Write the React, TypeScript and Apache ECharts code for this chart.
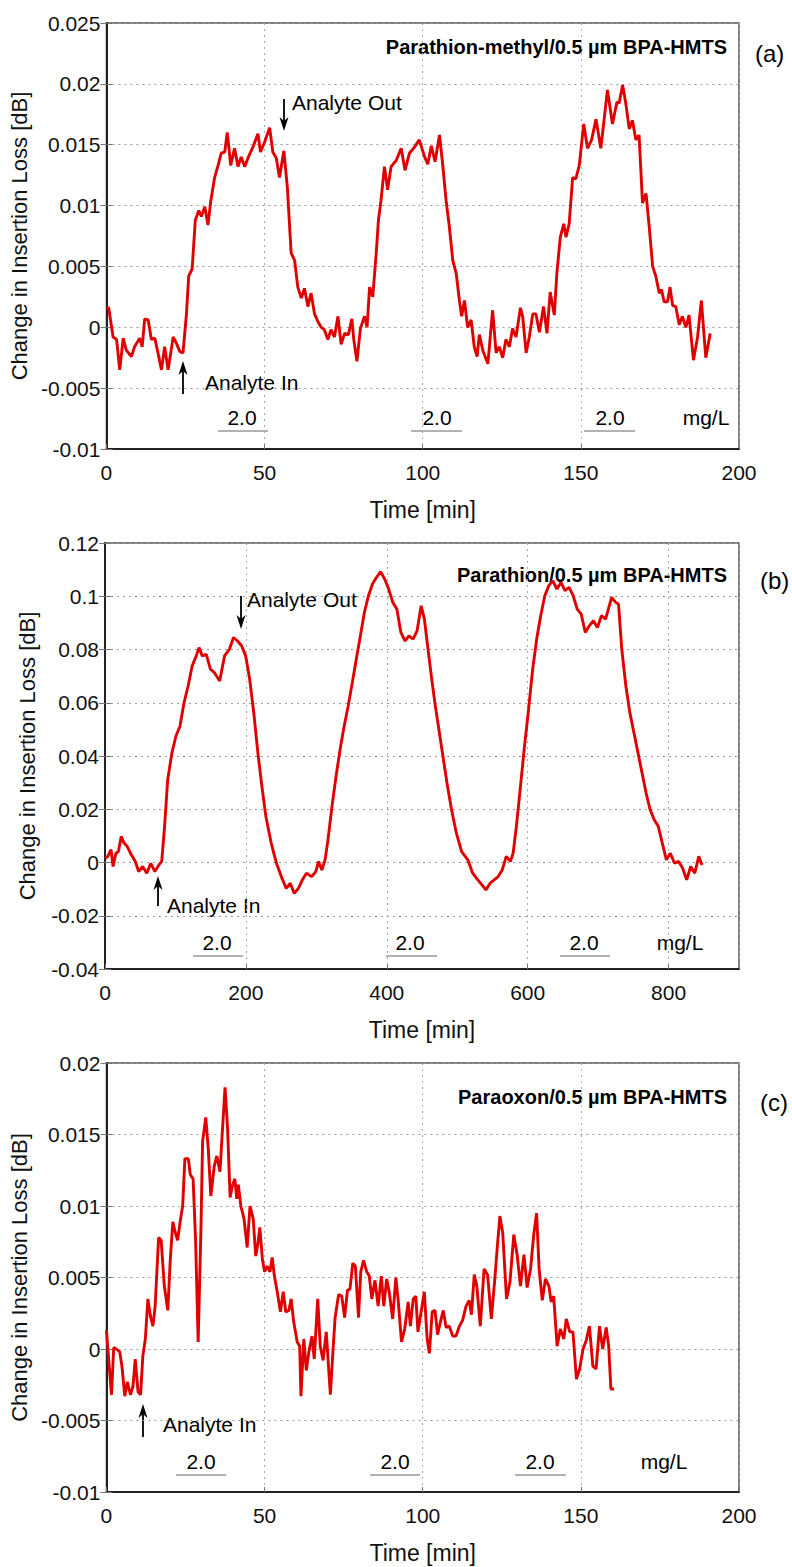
import React, { useEffect, useRef } from "react";
import * as echarts from "echarts";

// ---------- DATA ----------
// Panel (a): Parathion-methyl, [time min, change in insertion loss dB]
const seriesA: number[][] = [[0,0.0016],[0.7,0.0016],[2.1,-0.0008],[3.2,-0.001],[4.2,-0.0035],[5.3,-0.0009],[6.3,-0.0019],[7.9,-0.0024],[8.9,-0.0016],[10.5,-0.0009],[11.3,-0.0016],[12.1,0.0007],[13.2,0.0006],[14.2,-0.001],[15.3,-0.0009],[16.3,-0.0021],[17.4,-0.0035],[18.4,-0.0016],[19.5,-0.0035],[21.1,-0.0008],[22.1,-0.0013],[23.2,-0.002],[24.2,-0.0021],[25.3,0.0011],[26,0.0042],[27.1,0.0048],[28.1,0.0088],[29.2,0.0096],[30,0.0091],[31.1,0.0099],[32.1,0.0084],[33,0.0104],[34.2,0.0123],[35.3,0.0133],[36.3,0.0143],[37.4,0.0144],[38.2,0.016],[39.3,0.0133],[40.5,0.0147],[41.6,0.0132],[42.6,0.014],[43.7,0.0132],[44.9,0.014],[46.3,0.0148],[47.9,0.0159],[48.7,0.0144],[50,0.0152],[51.6,0.0164],[52.6,0.0144],[53.7,0.0139],[54.7,0.0123],[56.1,0.0145],[57.2,0.0115],[58.4,0.0061],[59.5,0.0055],[60.5,0.0033],[61.6,0.0024],[62.6,0.0032],[63.7,0.0017],[64.7,0.0028],[65.8,0.0011],[66.8,0.0005],[67.9,0],[68.9,-0.0002],[70,-0.001],[71,-0.0002],[72.1,-0.0008],[73.2,0.0009],[74.2,-0.0014],[75.3,-0.0005],[76.5,-0.0006],[77.6,0.0007],[78.2,-0.001],[79.2,-0.0028],[80.3,-0.0001],[81.6,0.0009],[82.4,0],[83.2,0.0033],[84.2,0.0025],[85.3,0.0061],[86,0.0088],[86.8,0.0104],[87.9,0.0132],[88.9,0.0113],[90,0.0132],[91.6,0.0137],[93.2,0.0147],[94.4,0.0129],[95.8,0.0143],[97.4,0.0148],[98.9,0.0154],[100.6,0.014],[101.6,0.0134],[102.7,0.0149],[103.9,0.0136],[105.3,0.0158],[106.3,0.0134],[107.4,0.0104],[108.4,0.0083],[109.5,0.0055],[110.6,0.0044],[111.6,0.0022],[112.3,0.0009],[113.2,0.0022],[114.2,0],[115.3,0.0006],[116.3,-0.0016],[117.2,-0.0024],[117.9,-0.0006],[119,-0.0019],[120.6,-0.003],[122.1,0.0014],[123.2,-0.0021],[124.2,-0.0016],[125.3,-0.0025],[126.3,-0.001],[127.4,-0.0016],[128.4,-0.0001],[129.5,-0.0008],[130.9,0.0016],[131.6,0.0009],[132.7,-0.0021],[133.7,-0.0008],[134.8,0.0011],[135.8,0.0011],[136.9,-0.0004],[138.2,0.0017],[139.3,-0.0005],[140.3,0.0029],[141.6,0.001],[142.4,0.0044],[143.5,0.0074],[144.6,0.0085],[145.3,0.0074],[146.3,0.0085],[147.4,0.0123],[148.4,0.0122],[149.5,0.0133],[150.9,0.0167],[152.1,0.0147],[153.4,0.0154],[154.8,0.0171],[156.3,0.0147],[157.2,0.0167],[158.4,0.0195],[160,0.0167],[161.4,0.0185],[162.1,0.0184],[163.2,0.0199],[164.2,0.0184],[165.3,0.0163],[166.3,0.017],[167.4,0.0154],[168.4,0.0158],[169.5,0.0102],[170.6,0.011],[171.6,0.0083],[172.7,0.005],[173.7,0.0042],[174.8,0.0028],[175.5,0.0031],[176.3,0.0021],[177.4,0.0021],[178.2,0.0033],[179,0.0018],[180,0.0017],[181.1,0.0002],[182.1,0.0009],[183.2,0],[184.2,0.001],[185.6,-0.0027],[186.9,-0.0008],[188.1,0.0022],[189.5,-0.0025],[190.9,-0.0005]];

// Panel (b): Parathion
const seriesB: number[][] = [[0,0.0015],[4,0.0023],[8.6,0.0048],[11.5,-0.0015],[15.5,0.0035],[19,0.0041],[23,0.0098],[27,0.0073],[31.6,0.006],[37.4,0.0029],[43,0.0004],[47.8,-0.0034],[53.5,-0.0015],[59.3,-0.004],[65,-0.0003],[70.8,-0.0034],[76.5,-0.0009],[80.5,0.0004],[84.6,0.0136],[89,0.0311],[95,0.0412],[100.7,0.0475],[106.4,0.0512],[112.2,0.06],[118,0.0663],[123.7,0.0738],[129.5,0.0776],[133.5,0.0807],[138,0.0776],[143.8,0.0782],[149.6,0.0726],[155.4,0.0713],[162.8,0.0682],[169.7,0.0776],[176.6,0.0801],[182.4,0.0845],[188.1,0.0832],[193.9,0.0814],[199.7,0.0776],[205.4,0.0688],[211.2,0.0562],[217,0.0412],[222.7,0.0286],[228.4,0.0173],[235.9,0.0073],[243.4,-0.0003],[250.3,-0.0053],[257.2,-0.0097],[263,-0.0078],[268.7,-0.0116],[274.5,-0.0097],[280.2,-0.0065],[286,-0.004],[293.4,-0.0053],[299.2,-0.0034],[303.2,0.0004],[307.8,-0.0028],[312.4,0.001],[316.5,0.0085],[322.2,0.0211],[328,0.0324],[333.7,0.0424],[339.5,0.0512],[345.2,0.0588],[351,0.0675],[356.7,0.0763],[362.5,0.0851],[368.2,0.0939],[374,0.1002],[379.7,0.1046],[385.5,0.1071],[391.2,0.1092],[397,0.1065],[402.7,0.1027],[408.5,0.0977],[414.3,0.0952],[420,0.0864],[425.8,0.0832],[431.5,0.0851],[437.3,0.0839],[443,0.087],[448.8,0.0964],[453.4,0.0914],[457.4,0.0826],[463.2,0.0701],[468.9,0.0588],[474.7,0.0487],[480.4,0.0387],[486.2,0.0286],[492,0.0198],[498.8,0.011],[506.3,0.0041],[515,0.001],[521.9,-0.004],[529.3,-0.0065],[535.1,-0.0084],[540.8,-0.0103],[546.6,-0.0078],[552.4,-0.0065],[558.1,-0.0053],[563.9,-0.0028],[569.6,0.0023],[575.4,0.0004],[579.4,0.0035],[584,0.0136],[589.8,0.0286],[595.5,0.0437],[601.3,0.0575],[607.1,0.0726],[612.8,0.0839],[618.5,0.0927],[624.3,0.1002],[630,0.104],[635.8,0.1058],[641.5,0.1027],[647.3,0.1052],[653,0.1021],[658.8,0.1033],[664.6,0.1002],[670.3,0.0952],[676,0.0933],[681.8,0.0864],[687.5,0.0889],[693.3,0.0908],[699,0.0883],[704.8,0.0927],[710.6,0.0914],[719.2,0.0996],[725,0.0977],[729,0.097],[733.6,0.0801],[739.4,0.0663],[745.1,0.0562],[750.9,0.0487],[756.6,0.0412],[762.4,0.0336],[768.1,0.0261],[773.9,0.0198],[779.6,0.0161],[785.4,0.0136],[791.1,0.0073],[796.9,0.001],[802.6,0.0035],[808.4,-0.0003],[814.2,0.0004],[819.9,-0.0021],[825.7,-0.0065],[831.4,-0.0015],[837.2,-0.004],[842.9,0.0023],[847.5,-0.0009]];

// Panel (c): Paraoxon
const seriesC: number[][] = [[0,0.0013],[0.7,-0.0007],[1.6,-0.0032],[2.3,0.0001],[3.1,0],[4.2,-0.0002],[4.9,-0.0012],[5.8,-0.0033],[6.6,-0.0023],[7.6,-0.0032],[8.4,-0.0026],[9.1,-0.0007],[10,-0.003],[10.8,-0.0032],[11.5,-0.0005],[12.3,0.0007],[13.1,0.0035],[13.9,0.0023],[14.7,0.0016],[15.4,0.003],[16.5,0.0078],[17.3,0.0076],[18.3,0.0044],[19.4,0.0027],[20.2,0.0063],[21,0.0089],[21.7,0.0082],[22.5,0.0076],[23.3,0.0089],[24.1,0.01],[24.8,0.0133],[25.9,0.0133],[26.5,0.0122],[27.4,0.0119],[28.2,0.0075],[29,0.0005],[29.9,0.0086],[30.4,0.0145],[31.4,0.0162],[32.2,0.014],[33,0.0107],[34.1,0.0128],[34.9,0.0135],[35.9,0.0124],[36.7,0.0154],[37.5,0.0183],[38.3,0.0154],[39.1,0.0106],[39.8,0.0114],[40.6,0.0119],[41.2,0.0105],[41.7,0.0115],[42.5,0.01],[43.5,0.0091],[44.5,0.0071],[45.4,0.01],[46.4,0.0091],[47.2,0.0065],[47.9,0.0074],[48.5,0.0085],[49.3,0.0063],[50,0.0054],[50.8,0.0058],[51.7,0.0054],[52.4,0.0064],[53.1,0.0051],[54,0.004],[55,0.0026],[55.9,0.004],[56.7,0.0026],[57.7,0.0027],[58.4,0.0035],[59.2,0.0019],[60.3,0.0005],[61.1,0.0002],[61.5,-0.0033],[62.4,0.0007],[63.2,-0.0015],[64,-0.0002],[65,0.0009],[65.7,-0.0007],[66.8,0.0035],[67.6,0.0002],[68.5,-0.0008],[69.5,0.0012],[70.8,-0.0032],[71.6,-0.0002],[72.3,0.0022],[73.4,0.0038],[74.4,0.0037],[75.3,0.0022],[76.2,0.0041],[77,0.0042],[77.9,0.006],[78.7,0.0058],[79.7,0.0022],[80.4,0.0054],[81.3,0.0062],[82.3,0.0054],[83.1,0.0051],[83.9,0.0035],[84.9,0.0048],[85.9,0.003],[86.9,0.0051],[87.7,0.003],[88.6,0.0049],[89.4,0.004],[90.5,0.0021],[91.5,0.005],[92.2,0.0035],[93.3,0.0005],[94.3,0.0014],[95.4,0.0033],[96.1,0.0016],[97,0.0035],[97.8,0.0037],[98.5,0.0012],[100.5,0.004],[101.4,0.0007],[102.1,-0.0003],[103,0.0026],[103.9,0.0027],[104.7,0.001],[105.6,0.0019],[106.5,0.0027],[107.4,0.0015],[108.4,0.0016],[109.5,0.0009],[110.5,0.0009],[111.6,0.0016],[112.6,0.002],[113.7,0.003],[114.7,0.0034],[115.4,0.0024],[116.3,0.0052],[117.1,0.0044],[118.2,0.0016],[119.4,0.0056],[120.5,0.0052],[121.7,0.0021],[122.8,0.0049],[123.6,0.0072],[124.4,0.0093],[125.3,0.0081],[126.5,0.0035],[127.6,0.0047],[128.8,0.008],[129.9,0.0065],[130.9,0.0044],[132,0.0066],[133,0.0043],[134.1,0.0056],[135.1,0.008],[136,0.0095],[136.8,0.0056],[137.8,0.0034],[138.8,0.0049],[139.9,0.0044],[140.6,0.0033],[141.4,0.0037],[142.5,0.0002],[143.5,0.0014],[144.6,0.0007],[145.4,0.0021],[146.5,0.0012],[147.5,0.0012],[148.6,-0.0021],[149.6,-0.0014],[150.7,0],[151.7,0.0006],[152.7,0.0016],[153.8,-0.0012],[154.8,-0.0014],[155.9,0.0016],[156.9,0],[158,0.0015],[158.8,0.0002],[159.5,-0.0028],[160.5,-0.0028]];

const panelTitles = ["Parathion-methyl/0.5 \u00b5m BPA-HMTS", "Parathion/0.5 \u00b5m BPA-HMTS", "Paraoxon/0.5 \u00b5m BPA-HMTS"];
const panelTags = ["(a)", "(b)", "(c)"];
const xRanges = [[0, 200, 50], [0, 900, 200], [0, 200, 50]];
const yRanges = [[-0.01, 0.025, 0.005], [-0.04, 0.12, 0.02], [-0.01, 0.02, 0.005]];
const concentrationLabel = "2.0";
const unitLabel = "mg/L";

const FONT = '"Liberation Sans", Arial, Helvetica, sans-serif';
const RED = "#e00000";

export default function App() {
  const ref = useRef<HTMLDivElement>(null);
  useEffect(() => {
    if (!ref.current) return;
    const chart = echarts.init(ref.current, null, { renderer: "svg" });
    const grids = [
      { left: 105, top: 23, width: 634, height: 426 },
      { left: 105, top: 543, width: 634, height: 426 },
      { left: 105, top: 1063, width: 634, height: 429 },
    ];
    const fmt = (v: number) => String(+v.toFixed(4));
    const xAxis: any[] = [];
    const yAxis: any[] = [];
    const series: any[] = [];
    const datas = [seriesA, seriesB, seriesC];
    grids.forEach((g, i) => {
      const [xmin, xmax, xint] = xRanges[i];
      const [ymin, ymax, yint] = yRanges[i];
      xAxis.push({
        type: "value", gridIndex: i, min: xmin, max: xmax, interval: xint,
        name: "Time [min]", nameLocation: "middle", nameGap: 49,
        nameTextStyle: { fontFamily: FONT, fontSize: 23, color: "#111" },
        axisLine: { show: true, onZero: false, lineStyle: { color: "#222", width: 2 } },
        axisTick: { show: true, inside: true, length: 5, lineStyle: { color: "#777" } },
        axisLabel: {
          fontFamily: FONT, fontSize: 21, color: "#111", margin: 13,
          formatter: (v: number) => (i === 1 && v === 900 ? "" : String(v)),
        },
        splitLine: { show: true, lineStyle: { color: "#aaa", type: [2, 4], width: 1 } },
      });
      yAxis.push({
        type: "value", gridIndex: i, min: ymin, max: ymax, interval: yint,
        name: "Change in Insertion Loss [dB]", nameLocation: "middle", nameGap: 67,
        nameTextStyle: { fontFamily: FONT, fontSize: 22, color: "#111" },
        axisLine: { show: true, onZero: false, lineStyle: { color: "#222", width: 2 } },
        axisTick: { show: true, inside: true, length: 6, lineStyle: { color: "#777" } },
        axisLabel: { fontFamily: FONT, fontSize: 21, color: "#111", margin: 6, formatter: fmt },
        splitLine: { show: true, lineStyle: { color: "#999", type: [2, 4], width: 1 } },
      });
      yAxis.push({
        type: "value", gridIndex: i, min: ymin, max: ymax, interval: yint, position: "right",
        axisLine: { show: false },
        axisTick: { show: true, inside: true, length: 6, lineStyle: { color: "#777" } },
        axisLabel: { show: false },
        splitLine: { show: false },
      });
      series.push({
        type: "line", xAxisIndex: i, yAxisIndex: i * 2, data: datas[i],
        showSymbol: false, symbol: "none", lineStyle: { color: RED, width: 2.9 },
        itemStyle: { color: RED }, silent: true,
      });
    });

    const txt = (x: number, y: number, text: string, size: number, align = "left", weight = "normal") => ({
      type: "text", x, y, silent: true,
      style: { text, fontFamily: FONT, fontSize: size, fontWeight: weight, fill: "#000", align, verticalAlign: "middle", textAlign: align, textVerticalAlign: "middle" },
    });
    const arrow = (x: number, tail: number, tip: number) => {
      const d = tip > tail ? 1 : -1;
      return [
        { type: "line", silent: true, shape: { x1: x, y1: tail, x2: x, y2: tip - d * 8 }, style: { stroke: "#000", lineWidth: 1.8 } },
        { type: "polygon", silent: true, shape: { points: [[x, tip], [x - 4.5, tip - d * 14], [x, tip - d * 10], [x + 4.5, tip - d * 14]] }, style: { fill: "#000" } },
      ];
    };
    const uline = (x1: number, x2: number, y: number) => ({
      type: "line", silent: true, shape: { x1, y1: y, x2, y2: y }, style: { stroke: "#999", lineWidth: 1.5 },
    });

    const graphic: any[] = [
      txt(727, 47, panelTitles[0], 20, "right", "bold"),
      txt(755, 53, panelTags[0], 24),
      txt(727, 575, panelTitles[1], 20, "right", "bold"),
      txt(760, 580, panelTags[1], 24),
      txt(727, 1097, panelTitles[2], 20, "right", "bold"),
      txt(760, 1102, panelTags[2], 24),
      ...arrow(284, 99, 131),
      txt(292, 102, "Analyte Out", 21),
      ...arrow(183, 394, 361),
      txt(205, 382, "Analyte In", 21),
      txt(242, 417, concentrationLabel, 21, "center"), uline(218, 268, 431),
      txt(437, 417, concentrationLabel, 21, "center"), uline(411, 462, 431),
      txt(610, 417, concentrationLabel, 21, "center"), uline(584, 635, 431),
      txt(706, 417, unitLabel, 21, "center"),
      ...arrow(241, 596, 629),
      txt(247, 599, "Analyte Out", 21),
      ...arrow(158, 906, 876),
      txt(167, 905, "Analyte In", 21),
      txt(217, 942, concentrationLabel, 21, "center"), uline(193, 243, 956),
      txt(410, 942, concentrationLabel, 21, "center"), uline(386, 437, 956),
      txt(584, 942, concentrationLabel, 21, "center"), uline(560, 610, 956),
      txt(680, 942, unitLabel, 21, "center"),
      ...arrow(143, 1437, 1404),
      txt(163, 1424, "Analyte In", 21),
      txt(201, 1461, concentrationLabel, 21, "center"), uline(176, 226, 1475),
      txt(395, 1461, concentrationLabel, 21, "center"), uline(370, 420, 1475),
      txt(540, 1461, concentrationLabel, 21, "center"), uline(515, 566, 1475),
      txt(664, 1461, unitLabel, 21, "center"),
    ];

    chart.setOption({
      animation: false,
      backgroundColor: "#ffffff",
      grid: grids.map((g) => ({ ...g, show: true, borderColor: "#555", borderWidth: 1.5, backgroundColor: "transparent", containLabel: false })),
      xAxis,
      yAxis,
      series,
      graphic,
    });
    return () => chart.dispose();
  }, []);
  return <div ref={ref} style={{ position: "absolute", left: 0, top: 0, width: 792, height: 1567, background: "#fff" }} />;
}
